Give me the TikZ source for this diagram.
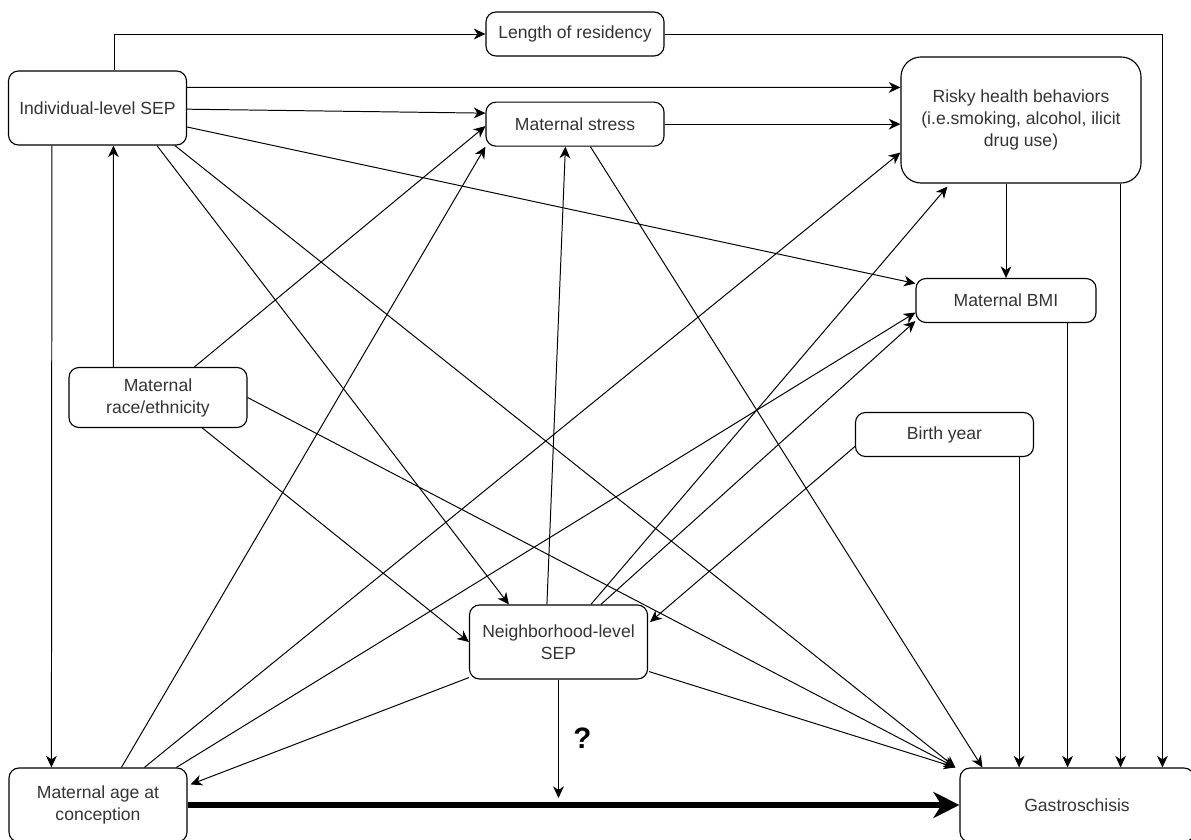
\documentclass[tikz,border=0pt]{standalone}
\usepackage{fontspec}
\setmainfont{Liberation Sans}
\usetikzlibrary{arrows.meta,positioning,calc}
\definecolor{boxtext}{HTML}{333333}
\begin{document}
\begin{tikzpicture}[
  x=0.025cm,y=-0.025cm,
  font=\fontsize{12.5}{15.6}\selectfont,
  box/.style={draw,rounded corners=0.25cm,minimum width=4.45cm,minimum height=1.1cm,
    align=center,text=boxtext,inner sep=2pt,line width=0.8pt},
  tall/.style={minimum height=1.85cm},
  arrow/.style={-{Stealth[length=2.9mm,width=2.7mm,inset=0.9mm]},line width=0.7pt},
  bigarrow/.style={-{Stealth[length=6.5mm,width=6.5mm,inset=2mm]},line width=3.7pt}
]
\useasboundingbox (0,0) rectangle (1191,840);
\node[box,tall] (ind) at (97.5,108) {Individual-level SEP};
\node[box] (res) at (575,34) {Length of residency};
\node[box,below=1.125cm of res] (stress) {Maternal stress};
\node[box,minimum width=6cm,minimum height=3.15cm,rounded corners=0.5cm] (risky) at (1021,120)
  {Risky health behaviors\\(i.e.smoking, alcohol, ilicit\\drug use)};
\node[box,minimum width=4.5cm] (bmi) at (1006,300.5) {Maternal BMI};
\node[box,minimum height=1.5cm] (race) at (158,397.5) {Maternal\\race/ethnicity};
\node[box] (birth) at (944.5,434.5) {Birth year};
\node[box,tall] (neigh) at (558.5,642) {Neighborhood-level\\SEP};
\node[box,tall] (age) at (98,805) {Maternal age at\\conception};
\node[box,tall,minimum width=5.85cm] (gastro) at (1077,805) {Gastroschisis};
\coordinate (gin) at ($(gastro.north west)+(-4,0)$);
\coordinate (mid) at (neigh.south |- age.east);
\coordinate (r1) at ($(risky.south east)+(-21,0)$);
\coordinate (b1) at ($(bmi.south east)+(-29,0)$);
\coordinate (y1) at ($(birth.south east)+(-15,0)$);
% individual-level SEP
\draw[arrow] ($(ind.north)+(16.5,0)$) |- (res);
\draw[arrow] ($(ind.north east)+(0,17)$) -- ($(risky.north west)+(0,31)$);
\draw[arrow] (ind) -- ($(stress.west)+(0,-11)$);
\draw[arrow] ($(ind.east)+(0,19)$) -- ($(bmi.west)+(0,-17)$);
\draw[arrow] ($(ind.south west)+(44,0)$) -- ($(age.north west)+(43,0)$);
\draw[arrow] ($(ind.south west)+(149,0)$) -- ($(neigh.north west)+(40,0)$);
\draw[arrow] ($(ind.south west)+(167,0)$) -- (gin);
% maternal race/ethnicity
\draw[arrow] ($(race.north west)+(45,0)$) -- ($(ind.south west)+(105.5,0)$);
\draw[arrow] ($(race.north west)+(126,0)$) -- ($(stress.west)+(0,2)$);
\draw[arrow] (race.east) -- (gin);
\draw[arrow] ($(race.south west)+(134,0)$) -- (neigh.west);
% maternal stress and neighborhood-level SEP
\draw[arrow] (res) -| ($(gastro.north west)+(203,0)$);
\draw[arrow] (stress.east) -- (stress.east -| risky.west);
\draw[arrow] ($(stress.south west)+(105,0)$) -- ($(gastro.north west)+(23,0)$);
\draw[arrow] ($(neigh.north west)+(78,0)$) -- ($(stress.south west)+(80,0)$);
\draw[arrow] ($(neigh.north west)+(122,0)$) -- ($(risky.south west)+(47,3)$);
\draw[arrow] ($(neigh.north west)+(132,0)$) -- ($(bmi.south west)+(0,-2)$);
\draw[arrow] ($(neigh.south west)+(0,-2)$) -- ($(age.north east)+(3,17)$);
\draw[arrow] ($(neigh.south east)+(1,-8)$) -- (gin);
\draw[arrow,shorten >=5pt] (neigh) -- node[pos=0.47,right=0.36cm,inner sep=0pt,
  font=\fontsize{21}{22}\selectfont\bfseries] (q) {?} (mid);
% maternal age at conception
\draw[bigarrow] (age) -- (gastro);
\draw[arrow] ($(age.north west)+(113,0)$) -- (stress.south west);
\draw[arrow] ($(age.north west)+(136,0)$) -- ($(risky.south west)+(0,-31)$);
\draw[arrow] ($(age.north west)+(168,0)$) -- ($(bmi.west)+(0,12)$);
% right-hand side
\draw[arrow] (risky.south -| bmi.north) -- (bmi.north);
\draw[arrow] (r1) -- (r1 |- gastro.north);
\draw[arrow] (b1) -- (b1 |- gastro.north);
\draw[arrow] (y1) -- (y1 |- gastro.north);
\draw[arrow] ($(birth.west)+(0,12)$) -- ($(neigh.east)+(2,-20)$);
\end{tikzpicture}
\end{document}
